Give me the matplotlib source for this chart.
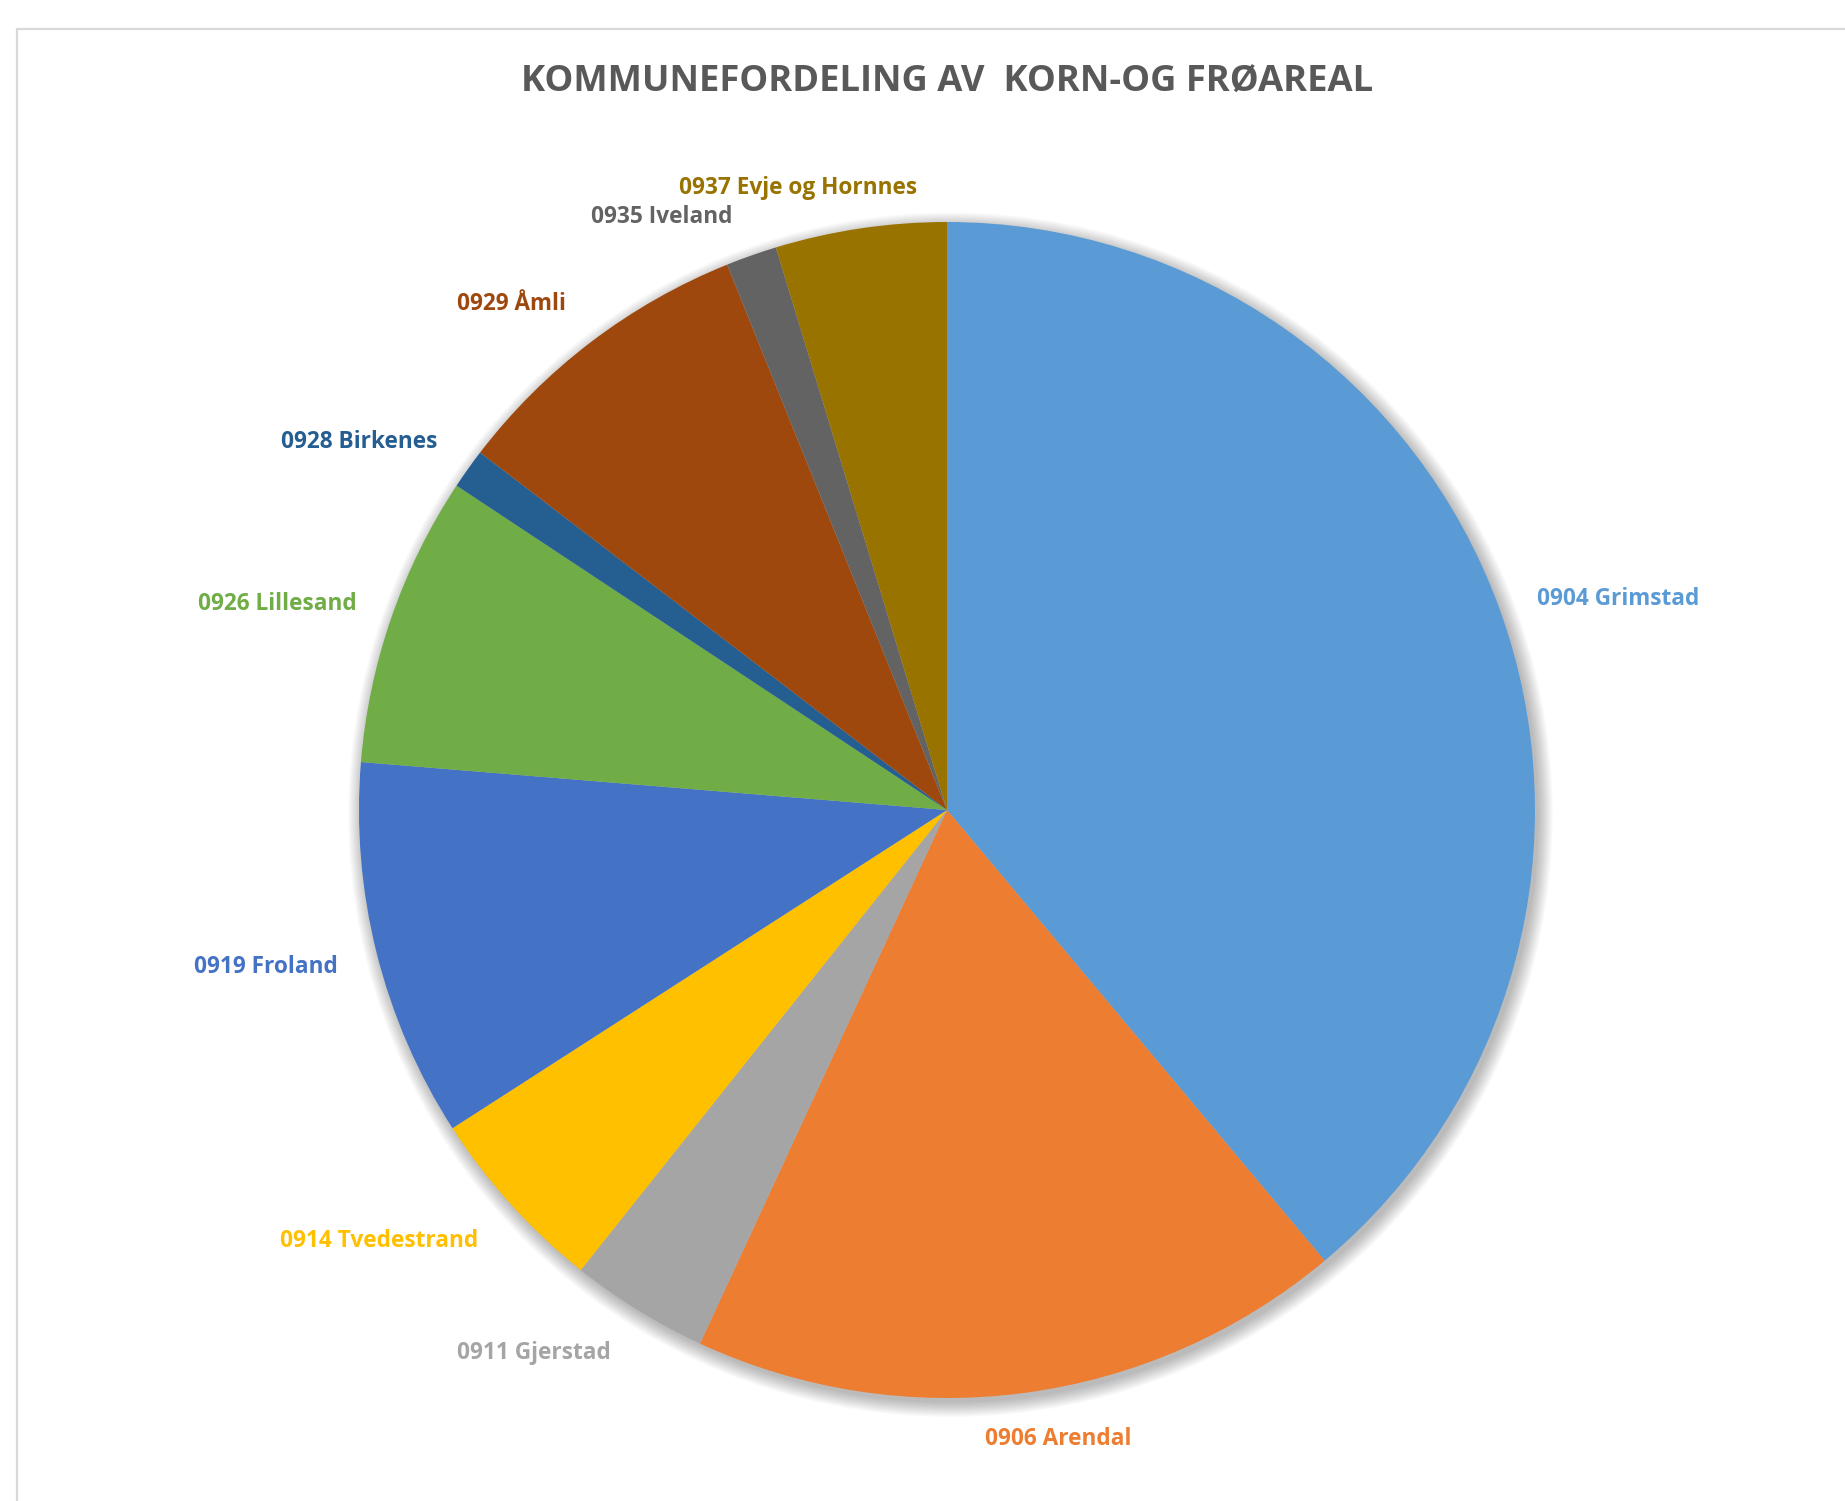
import matplotlib
matplotlib.use('Agg')
import matplotlib.pyplot as plt
from matplotlib.patches import Circle, Rectangle
import numpy as np

#***** Data *****
kommuner = ['0904 Grimstad', '0906 Arendal', '0911 Gjerstad', '0914 Tvedestrand',
            '0919 Froland', '0926 Lillesand', '0928 Birkenes', '0929 Åmli',
            '0935 Iveland', '0937 Evje og Hornnes']
andel = [38.9, 18.0, 3.8, 5.2, 10.4, 8.0, 1.1, 8.5, 1.4, 4.7]
farger = ['#5B9BD5', '#ED7D31', '#A5A5A5', '#FFC000', '#4472C4',
          '#70AD47', '#255E91', '#9E480E', '#636363', '#997300']
tittel = 'KOMMUNEFORDELING AV  KORN-OG FRØAREAL'
#****************

# label anchors, in pie-radius units (x right, y up)
label_pos = [(1.141, 0.362), (0.189, -1.066), (-0.702, -0.920), (-0.966, -0.730),
             (-1.158, -0.264), (-1.139, 0.354), (-1.000, 0.629), (-0.741, 0.864),
             (-0.485, 1.012), (-0.253, 1.060)]

W, H = 1845, 1501
cx, cy, R = 947, 810, 588   # pie centre and radius in pixels

plt.rcParams['font.family'] = ['Open Sans', 'DejaVu Sans']

fig = plt.figure(figsize=(W / 100, H / 100), dpi=100)
fig.patch.set_facecolor('white')

# chart frame
fig.patches.append(Rectangle((17 / W, -0.05), 1.1, (H - 29) / H + 0.05,
                             transform=fig.transFigure, fill=False,
                             edgecolor='#D9D9D9', linewidth=1.6))

ax = fig.add_axes([0, 0, 1, 1])

# soft shadow behind the pie
for k in range(12):
    ax.add_patch(Circle((0.006, -0.008), 1.0 + 0.0022 * k, facecolor='black',
                        edgecolor='none', alpha=0.022, zorder=0))

ax.pie(andel, colors=farger, startangle=90, counterclock=False,
       wedgeprops={'linewidth': 0, 'zorder': 2})

for navn, farge, (lx, ly) in zip(kommuner, farger, label_pos):
    ax.text(lx, ly - 0.003, navn, color=farge, fontsize=16.3, fontweight='bold',
            ha='center', va='center', zorder=5)

ax.text(0, (cy - 83) / R, tittel, color='#595959', fontsize=26.2,
        fontweight='bold', ha='center', va='center')

ax.set_xlim(-cx / R, (W - cx) / R)
ax.set_ylim(-(H - cy) / R, cy / R)
ax.set_aspect('auto')
ax.axis('off')

fig.savefig('out.png', dpi=100)
